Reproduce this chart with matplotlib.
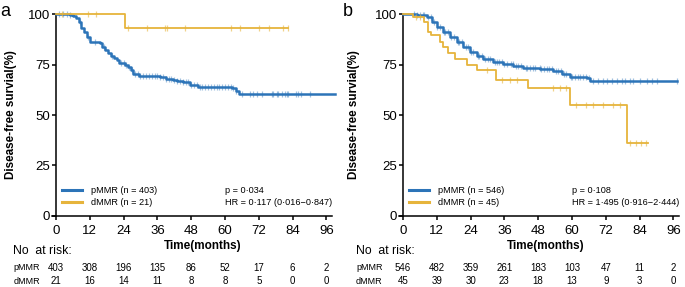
import numpy as np
import matplotlib
matplotlib.use("Agg")
import matplotlib.pyplot as plt
from matplotlib.lines import Line2D

plt.rcParams['font.family'] = ['Liberation Sans', 'DejaVu Sans']

blue = '#2C74B8'
gold = '#E6B43C'

# ---- panel a: step curves (time in months, survival in %) ----
a_p_t = [0, 5, 6, 7, 8, 9, 10, 11, 12, 15.5, 16.5, 17.5, 18.5, 19.5, 20.5, 21.5, 22.5, 24.5,
         25.5, 26.5, 27.5, 29.5, 37, 39, 41.5, 43, 45, 47.5, 50.5, 62.5, 63.8, 65]
a_p_s = [100, 99.5, 99, 98, 96, 93, 91, 88.5, 86.3, 85.5, 83.5, 82, 80.5, 79, 78, 77, 75.7, 75,
         73.8, 72.5, 70.5, 69.3, 68.8, 68, 67.3, 66.8, 66.3, 64.8, 64, 63.6, 62, 60.5]
a_p_end = 99
a_p_cens = [1, 2.5, 4, 5, 8.5, 11.5, 14, 17, 20, 23, 24, 25, 26, 27, 28, 29, 30, 31, 32, 33,
            34, 35, 36, 37, 38, 39, 40, 41, 42, 43, 44, 45, 46, 47, 48, 49, 50, 51, 52, 53, 54,
            55, 56, 57, 58, 59, 60, 61, 62, 63, 64, 66, 68.8, 69.9, 71.3, 73, 76.6, 76.9, 78.4,
            78.7, 80.1, 81.2, 82, 82.3, 85.1, 85.8, 86.9, 90.1]

a_d_t = [0, 24.4]
a_d_s = [100, 92.9]
a_d_end = 82.4
a_d_cens = [2, 11.4, 14.2, 25.5, 32.2, 38.6, 39.4, 45.7, 62.3, 65.2, 72.1, 75.6, 80.6, 82.4]

# ---- panel b ----
b_p_t = [0, 5, 8.4, 10.2, 12, 14.3, 16.7, 19.1, 21.4, 23.8, 26.2, 28.5, 32.1, 35.6, 39.1, 42.7,
         48.6, 53.4, 56.3, 59.3, 65.2, 66.4]
b_p_s = [100, 99.5, 98.5, 96.2, 93.7, 91.2, 88.8, 86.3, 83.8, 81.3, 79.2, 77.6, 76.4, 75.2,
         74.3, 73.1, 72.6, 71.9, 70.3, 68.6, 68.1, 66.8]
b_p_end = 97.2
b_p_cens = [4, 5, 6, 7, 7.5, 9, 10, 11, 12, 13, 14.5, 15, 16, 17, 18, 19.5, 20, 21, 22.5, 23,
            24, 25, 26.5, 27, 28, 29, 30, 31, 32.5, 33.5, 34, 35, 36, 37, 38.5, 39, 40, 41, 42,
            43.5, 44, 45, 46, 47, 48.5, 49, 50, 51, 52, 53, 54.5, 55, 56, 57, 58, 59.5, 60, 61,
            62, 63, 64, 65, 66, 67.4, 69.1, 70.9, 72.3, 74.1, 75.9, 77.7, 78.7, 80.5, 81.6,
            84.0, 86.5, 88.3, 90.1, 97.2]

b_d_t = [0, 3.7, 7.5, 8.9, 10.1, 13.1, 14.3, 16.1, 18.4, 22.6, 26.2, 33, 44.5, 59.3, 79.4]
b_d_s = [100, 98.5, 96.2, 91.2, 89.6, 86.3, 83.8, 80.5, 77.6, 74.8, 72.3, 67.3, 63.2, 55.0, 36.3]
b_d_end = 86.9
b_d_cens = [4.5, 6, 29.7, 35, 37.9, 40.3, 53.3, 55.7, 58, 61.6, 65.1, 67.5, 71, 74.6, 77,
            80.5, 82.9, 84.6, 86.4]

ticks = [0, 12, 24, 36, 48, 60, 72, 84, 96]
a_risk_p = [403, 308, 196, 135, 86, 52, 17, 6, 2]
a_risk_d = [21, 16, 14, 11, 8, 8, 5, 0, 0]
b_risk_p = [546, 482, 359, 261, 183, 103, 47, 11, 2]
b_risk_d = [45, 39, 30, 23, 18, 13, 9, 3, 0]

a_leg = ['pMMR (n = 403)', 'dMMR (n = 21)']
b_leg = ['pMMR (n = 546)', 'dMMR (n = 45)']
a_stats = ['p = 0·034', 'HR = 0·117 (0·016−0·847)']
b_stats = ['p = 0·108', 'HR = 1·495 (0·916−2·444)']


def km(ax, t, s, end, cens, color, lw, alpha):
    tt = list(t) + [end]
    ss = list(s) + [s[-1]]
    ax.step(tt, ss, where='post', color=color, lw=lw, clip_on=False, zorder=3)
    t_arr = np.array(t)
    cy = [s[np.searchsorted(t_arr, c, side='right') - 1] for c in cens]
    ax.plot(cens, cy, ls='none', marker='|', ms=5, mew=0.9, color=color,
            alpha=alpha, clip_on=False, zorder=3)


fig = plt.figure(figsize=(6.85, 2.87), dpi=100)

panels = [
    (0.0756, -0.124, -15.2, 52, 'a', 0.0, a_p_t, a_p_s, a_p_end, a_p_cens,
     a_d_t, a_d_s, a_d_end, a_d_cens, a_risk_p, a_risk_d, a_leg, a_stats),
    (0.5822, -0.139, -16.7, 50.5, 'b', 343 / 685, b_p_t, b_p_s, b_p_end, b_p_cens,
     b_d_t, b_d_s, b_d_end, b_d_cens, b_risk_p, b_risk_d, b_leg, b_stats),
]

for (left, ylab_x, tab_x, xl_x, letter, let_x, pt, ps, pend, pc,
     dt, ds, dend, dc, rp, rd, leg, stats) in panels:
    ax = fig.add_axes([left, 0.2474, 0.409, 0.7038])
    km(ax, pt, ps, pend, pc, blue, 1.8, 0.45)
    km(ax, dt, ds, dend, dc, gold, 1.3, 0.6)

    ax.set_xlim(-1.5, 98)
    ax.set_ylim(0, 100)
    ax.spines['top'].set_visible(False)
    ax.spines['right'].set_visible(False)
    ax.spines['left'].set_position(('data', 0))
    for sp in ('left', 'bottom'):
        ax.spines[sp].set_linewidth(1.1)
    ax.set_xticks(ticks)
    ax.set_yticks([0, 25, 50, 75, 100])
    ax.tick_params(axis='both', direction='out', length=3, width=1.1, labelsize=9.5, pad=1.5)
    ax.tick_params(axis='x', pad=3.5)
    ax.set_ylabel('Disease-free survial(%)', fontsize=8.4, fontweight='bold')
    ax.yaxis.set_label_coords(ylab_x, 0.5)

    ax.text(xl_x, -14.9, 'Time(months)', fontsize=8.5, fontweight='bold',
            ha='center', va='center', clip_on=False)
    ax.text(tab_x, -17.3, 'No  at risk:', fontsize=8.8, ha='left', va='center', clip_on=False)
    ax.text(tab_x, -25.7, 'pMMR', fontsize=6.5, ha='left', va='center', clip_on=False)
    ax.text(tab_x, -32.4, 'dMMR', fontsize=6.5, ha='left', va='center', clip_on=False)
    for x, vp, vd in zip(ticks, rp, rd):
        ax.text(x, -25.7, str(vp), fontsize=7, ha='center', va='center', clip_on=False)
        ax.text(x, -32.4, str(vd), fontsize=7, ha='center', va='center', clip_on=False)

    handles = [Line2D([], [], color=blue, lw=2.2), Line2D([], [], color=gold, lw=2.2)]
    ax.legend(handles, leg, loc='center left', bbox_to_anchor=(0.035, 0.095),
              frameon=False, fontsize=6.6, handlelength=2.2, handletextpad=1.0,
              labelspacing=0.35, borderpad=0, borderaxespad=0)
    ax.text(60, 12.5, stats[0], fontsize=6.6, ha='left', va='center')
    ax.text(60, 6.8, stats[1], fontsize=6.6, ha='left', va='center')

    fig.text(let_x, 0.99, letter, fontsize=13, ha='left', va='top')

fig.savefig('out.png', dpi=100)
